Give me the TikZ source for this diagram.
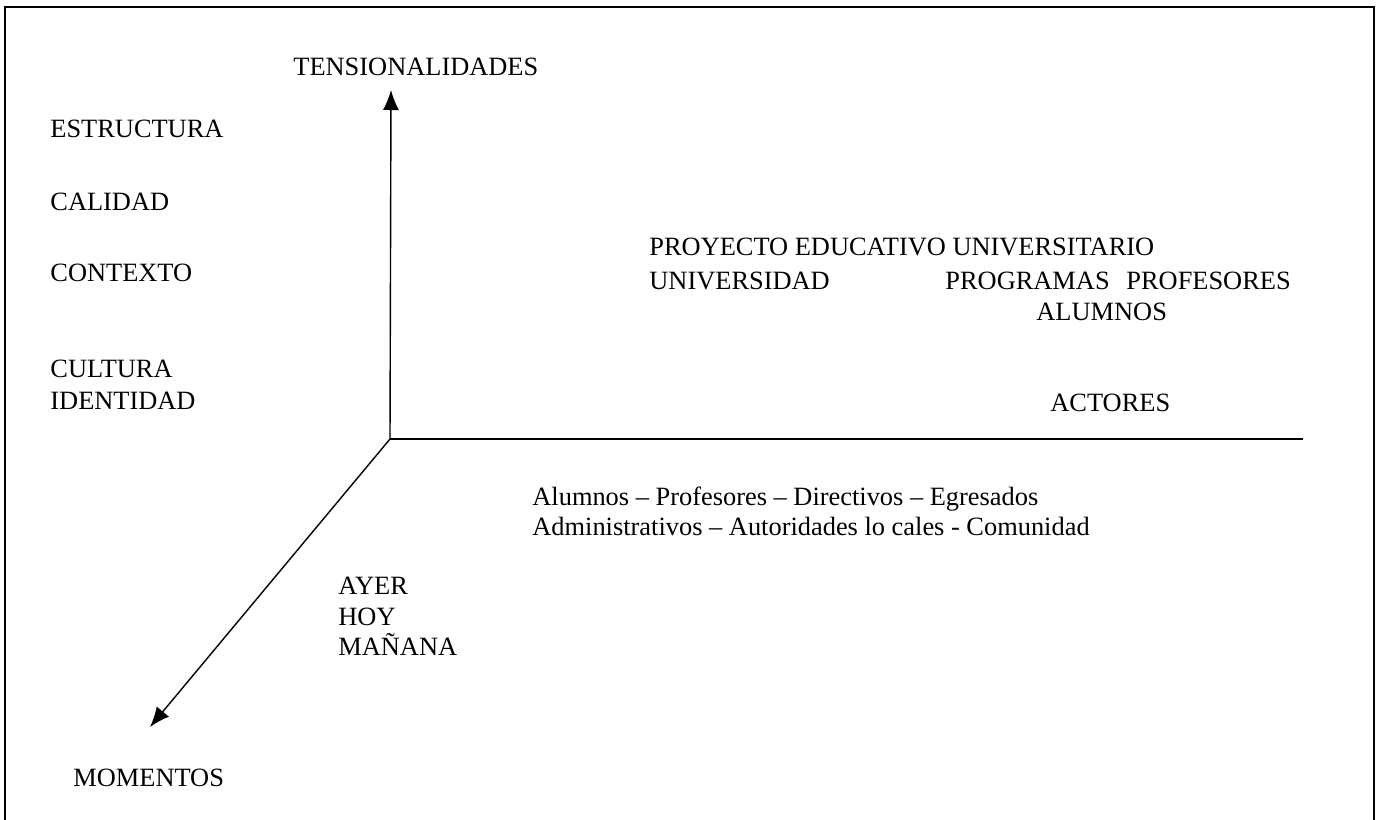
\documentclass[tikz,border=0pt]{standalone}
\usepackage{fontspec}
\setmainfont{Liberation Serif}
\usetikzlibrary{arrows.meta}

\begin{document}
\begin{tikzpicture}[x=0.5pt,y=-0.5pt]
					\useasboundingbox (0,0) rectangle (1383,820);
					\draw [line width=1pt] (5,822) -- (5,7) -- (1374,7) -- (1374,822);
					
					\coordinate (O) at (390,439);
					\coordinate (T) at (391,90);
					\coordinate (R) at (1303,439);
					\coordinate (M) at (150,727);
					
					\begin{scope}[every node/.style={anchor=base west,inner sep=0pt,font=\fontsize{13.2}{15}\selectfont}]
						\node (tens) at (293,75) {TENSIONALIDADES};
						\node (estr) at (50,137) {ESTRUCTURA};
						\node (cal) at (50,210) {CALIDAD};
						\node (cont) at (50,281) {CONTEXTO};
						\node (cult) at (50,377) {CULTURA};
						\node (iden) at (50,409) {IDENTIDAD};
						\node (proy) at (649,255) {PROYECTO EDUCATIVO UNIVERSITARIO};
						\node (univ) at (649,289) {UNIVERSIDAD};
						\node (prog) at (945,289) {PROGRAMAS};
						\node (prof) at (1126,289) {PROFESORES};
						\node (alum) at (1036,320) {ALUMNOS};
						\node (act) at (1050,411) {ACTORES};
						\node (lst1) at (532,505) {Alumnos -- Profesores -- Directivos -- Egresados};
						\node (lst2) at (532,535) {Administrativos -- Autoridades lo cales - Comunidad};
						\node (ayer) at (338,594) {AYER};
						\node (hoy) at (338,625) {HOY};
						\node (man) at (338,655) {MAÑANA};
						\node (mom) at (73,786) {MOMENTOS};
					\end{scope}
					
					\begin{scope}[line width=0.7pt]
						\draw [-{Latex[length=10pt,width=8pt]}] (O) -- (T);
						\draw (O) -- (R);
						\draw [-{Latex[length=10pt,width=8pt]}] (O) -- (M);
					\end{scope}
				\end{tikzpicture}
\end{document}
